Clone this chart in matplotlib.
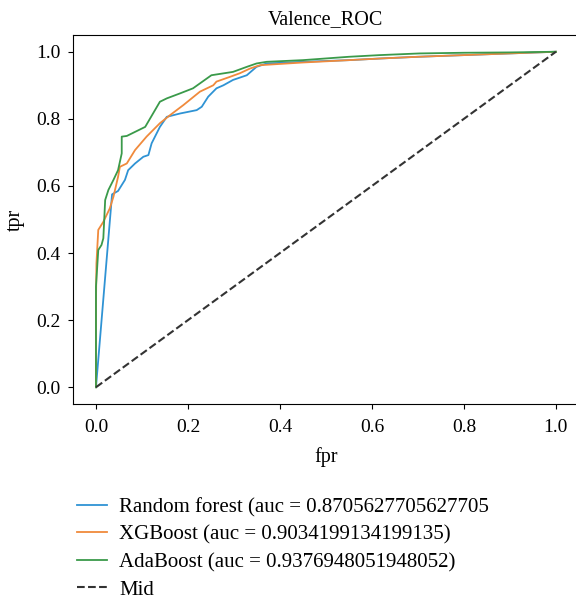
import matplotlib
matplotlib.use('Agg')
import matplotlib.pyplot as plt

plt.rcParams['font.family'] = ['Liberation Serif', 'DejaVu Serif']

# ROC points
rf_fpr = [0.0, 0.035, 0.048, 0.063, 0.070, 0.085, 0.103, 0.114, 0.121, 0.139, 0.154, 0.183, 0.219, 0.230,
          0.244, 0.262, 0.277, 0.298, 0.328, 0.349, 0.371, 0.45, 0.55, 0.62, 0.70, 0.80, 0.90, 1.0]
rf_tpr = [0.0, 0.575, 0.585, 0.618, 0.647, 0.667, 0.687, 0.692, 0.727, 0.776, 0.806, 0.816, 0.826, 0.836,
          0.866, 0.891, 0.900, 0.916, 0.930, 0.955, 0.965, 0.970, 0.975, 0.980, 0.985, 0.990, 0.995, 1.0]

xgb_fpr = [0.0, 0.0, 0.001, 0.005, 0.016, 0.030, 0.038, 0.048, 0.052, 0.067, 0.085, 0.110, 0.139, 0.161,
           0.190, 0.226, 0.255, 0.262, 0.291, 0.313, 0.335, 0.357, 0.45, 0.55, 0.62, 0.70, 0.80, 0.90, 1.0]
xgb_tpr = [0.0, 0.25, 0.369, 0.469, 0.493, 0.533, 0.568, 0.627, 0.657, 0.667, 0.707, 0.747, 0.787, 0.811,
           0.841, 0.881, 0.900, 0.911, 0.925, 0.936, 0.950, 0.960, 0.968, 0.975, 0.980, 0.985, 0.990, 0.995, 1.0]

ada_fpr = [0.0, 0.0, 0.005, 0.012, 0.016, 0.020, 0.027, 0.038, 0.048, 0.056, 0.056, 0.067, 0.107, 0.139,
           0.154, 0.183, 0.211, 0.251, 0.298, 0.328, 0.349, 0.371, 0.45, 0.55, 0.617, 0.704, 0.80, 0.90, 1.0]
ada_tpr = [0.0, 0.30, 0.409, 0.424, 0.444, 0.558, 0.588, 0.618, 0.647, 0.697, 0.747, 0.749, 0.776, 0.851,
           0.861, 0.876, 0.891, 0.930, 0.940, 0.955, 0.965, 0.970, 0.975, 0.985, 0.990, 0.995, 0.997, 0.998, 1.0]

rf_label = 'Random forest (auc = 0.8705627705627705'
xgb_label = 'XGBoost (auc = 0.9034199134199135)'
ada_label = 'AdaBoost (auc = 0.9376948051948052)'

fig = plt.figure(figsize=(5.76, 6.03), dpi=100)
ax = fig.add_axes([0.1267, 0.330, 0.8783, 0.612])

ax.plot(rf_fpr, rf_tpr, color='#2f93d4', linewidth=1.3, label=rf_label)
ax.plot(xgb_fpr, xgb_tpr, color='#f08a3c', linewidth=1.3, label=xgb_label)
ax.plot(ada_fpr, ada_tpr, color='#3a9a4a', linewidth=1.3, label=ada_label)
ax.plot([0, 1], [0, 1], '--', color='#333333', linewidth=1.5, label='Mid')

ax.set_title('Valence_ROC', fontsize=14.5, pad=8)
ax.set_xlabel('fpr', fontsize=14.5, labelpad=8)
ax.set_ylabel('tpr', fontsize=14.5, labelpad=8)
ax.tick_params(labelsize=14)
ax.tick_params(axis='x', pad=7)
ax.tick_params(axis='y', pad=5.5)

ax.legend(loc='upper left', bbox_to_anchor=(-0.03, -0.203), frameon=False, fontsize=15,
          handlelength=1.45, handletextpad=0.6, labelspacing=0.38)

fig.savefig('out.png', dpi=100)
